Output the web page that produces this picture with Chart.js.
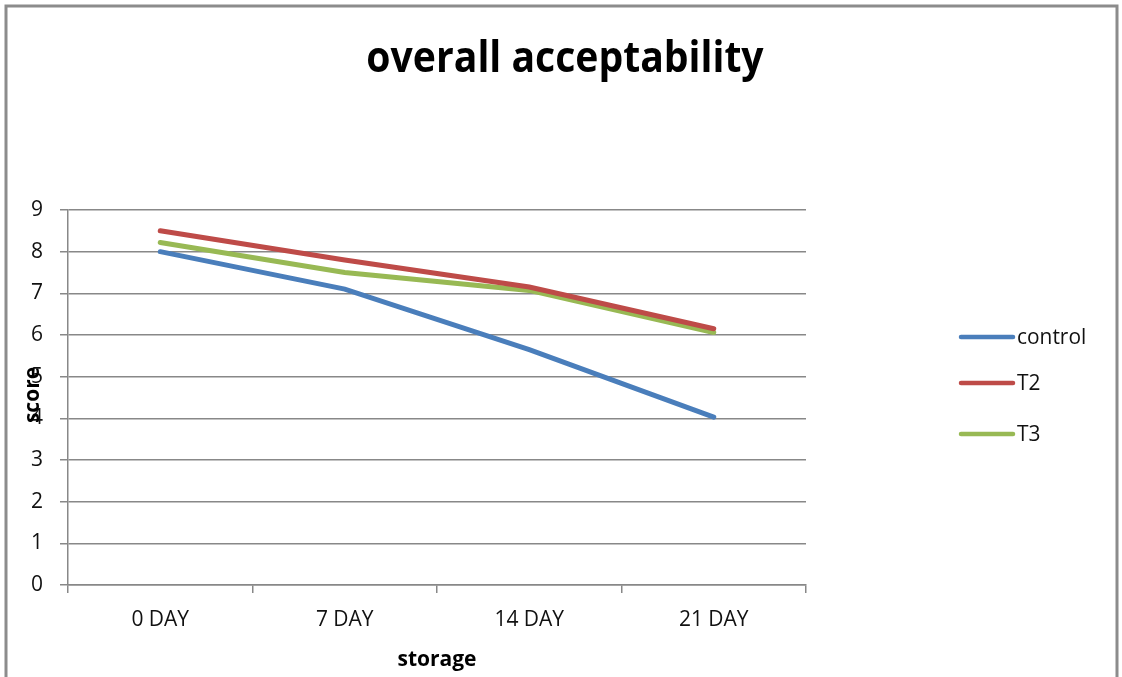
<!DOCTYPE html>
<html>
<head>
<meta charset="utf-8">
<script src="https://cdn.jsdelivr.net/npm/chart.js@4.4.1/dist/chart.umd.min.js"></script>
<style>
  html, body { margin: 0; padding: 0; background: #ffffff; }
  #wrap { position: relative; width: 1122px; height: 677px; }
</style>
</head>
<body>
<div id="wrap"><canvas id="c" width="1122" height="677"></canvas></div>
<script>
// Storage days on the x axis
const categories = ['0 DAY', '7 DAY', '14 DAY', '21 DAY'];
// Sensory scores for each treatment
const control = [8.0, 7.1, 5.65, 4.03];
const t2 = [8.5, 7.8, 7.15, 6.15];
const t3 = [8.22, 7.5, 7.07, 6.06];
const seriesNames = ['control', 'T2', 'T3'];
const yTicks = [0, 1, 2, 3, 4, 5, 6, 7, 8, 9];

const FONT = "'Open Sans', 'Noto Sans', sans-serif";
const GRID = '#888888';

// Frame, title, axis titles and legend drawn on the canvas
const decor = {
  id: 'decor',
  beforeDraw(chart) {
    const ctx = chart.ctx;
    ctx.save();
    ctx.fillStyle = '#ffffff';
    ctx.fillRect(0, 0, chart.width, chart.height);
    ctx.strokeStyle = '#8c8c8c';
    ctx.lineWidth = 3;
    ctx.beginPath();
    ctx.moveTo(6, chart.height + 5);
    ctx.lineTo(6, 6);
    ctx.lineTo(1117, 6);
    ctx.lineTo(1117, chart.height + 5);
    ctx.stroke();
    ctx.restore();
  },
  afterDraw(chart) {
    const ctx = chart.ctx;
    ctx.save();
    ctx.fillStyle = '#000000';
    ctx.textAlign = 'center';
    ctx.textBaseline = 'middle';
    ctx.font = "bold 43px " + FONT;
    ctx.save();
    ctx.translate(565, 60);
    ctx.scale(0.91, 1);
    ctx.fillText('overall acceptability', 0, 0);
    ctx.restore();

    ctx.font = "bold 21px " + FONT;
    ctx.fillText('storage', 437, 660);
    ctx.save();
    ctx.translate(33, 395);
    ctx.rotate(-Math.PI / 2);
    ctx.fillText('score', 0, 0);
    ctx.restore();

    // legend
    const ys = [337, 383, 434];
    ctx.textAlign = 'left';
    ctx.font = "22px " + FONT;
    chart.data.datasets.forEach((ds, i) => {
      ctx.strokeStyle = ds.borderColor;
      ctx.lineWidth = 4.5;
      ctx.lineCap = 'round';
      ctx.beginPath();
      ctx.moveTo(961, ys[i]);
      ctx.lineTo(1013, ys[i]);
      ctx.stroke();
      ctx.fillStyle = '#111111';
      ctx.save();
      ctx.translate(1017, ys[i] + 1);
      ctx.scale(0.95, 1);
      ctx.fillText(ds.label, 0, 0);
      ctx.restore();
    });
    ctx.restore();
  }
};

new Chart(document.getElementById('c'), {
  type: 'line',
  data: {
    labels: categories,
    datasets: [
      { label: seriesNames[0], data: control, borderColor: '#4a7ebb' },
      { label: seriesNames[1], data: t2, borderColor: '#be4b48' },
      { label: seriesNames[2], data: t3, borderColor: '#98b954' }
    ].map(d => Object.assign(d, {
      borderWidth: 5, pointRadius: 0, pointHoverRadius: 0, tension: 0,
      fill: false, borderCapStyle: 'round'
    }))
  },
  options: {
    responsive: false,
    animation: false,
    events: [],
    layout: { padding: { left: 0, top: 210, right: 316, bottom: 0 } },
    plugins: { legend: { display: false }, title: { display: false }, tooltip: { enabled: false } },
    scales: {
      x: {
        offset: true,
        afterFit(s) { s.height = 92; },
        grid: { offset: true, drawOnChartArea: false, drawTicks: true, tickLength: 8, color: GRID, lineWidth: 1.5 },
        border: { display: true, color: GRID, width: 1.5 },
        ticks: { color: '#111111', font: { family: FONT, size: 21 }, padding: 14, maxRotation: 0 }
      },
      y: {
        min: 0, max: 9,
        afterFit(s) { s.width = 68; },
        afterBuildTicks(s) { s.ticks = yTicks.map(v => ({ value: v })); },
        grid: { drawTicks: true, tickLength: 8, color: GRID, lineWidth: 1.5 },
        border: { display: true, color: GRID, width: 1.5 },
        ticks: { color: '#111111', font: { family: FONT, size: 21 }, padding: 17 }
      }
    }
  },
  plugins: [decor]
});
</script>
</body>
</html>
